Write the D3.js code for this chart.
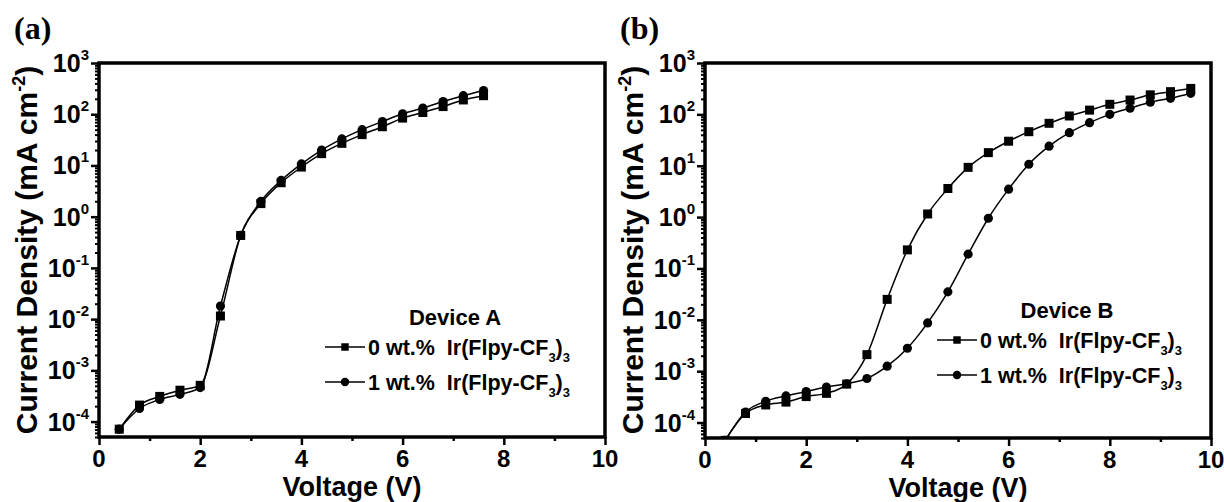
<!DOCTYPE html>
<html>
<head>
<meta charset="utf-8">
<script src="https://cdn.jsdelivr.net/npm/d3@7"></script>
<style>
  body { margin: 0; background: #fff; }
  svg text { font-family: "Liberation Sans", Arial, sans-serif; font-weight: bold; fill: #000; white-space: pre; }
</style>
</head>
<body>
<svg id="chart" width="1224" height="502"></svg>
<script>
// values
const voltageA = [0.4, 0.8, 1.2, 1.6, 2.0, 2.4, 2.8, 3.2, 3.6, 4.0, 4.4, 4.8, 5.2, 5.6, 6.0, 6.4, 6.8, 7.2, 7.6];
const densityA0 = [7.1e-5, 2.1e-4, 3.1e-4, 4.1e-4, 5.1e-4, 1.15e-2, 0.43, 1.8, 4.6, 9.3, 17, 27, 40, 57, 84, 108, 141, 190, 230];
const densityA1 = [7.1e-5, 1.8e-4, 2.7e-4, 3.4e-4, 4.6e-4, 1.8e-2, 0.43, 2.0, 5.1, 10.7, 20, 33, 50, 72, 102, 132, 177, 230, 290];

const voltageB = [0.4, 0.8, 1.2, 1.6, 2.0, 2.4, 2.8, 3.2, 3.6, 4.0, 4.4, 4.8, 5.2, 5.6, 6.0, 6.4, 6.8, 7.2, 7.6, 8.0, 8.4, 8.8, 9.2, 9.6];
const densityB0 = [4.5e-5, 1.5e-4, 2.2e-4, 2.5e-4, 3.2e-4, 3.7e-4, 5.6e-4, 2.1e-3, 2.5e-2, 0.23, 1.15, 3.6, 9.3, 18, 30, 46, 67, 93, 121, 157, 190, 240, 277, 320];
const densityB1 = [4.5e-5, 1.6e-4, 2.6e-4, 3.3e-4, 4.0e-4, 4.9e-4, 5.7e-4, 7.2e-4, 1.25e-3, 2.8e-3, 8.7e-3, 3.5e-2, 0.19, 0.95, 3.5, 10.7, 24, 44, 69, 100, 132, 172, 205, 257];

const xTicks = [0, 2, 4, 6, 8, 10];
const xMinorTicks = [1, 3, 5, 7, 9];
const yExponents = [-4, -3, -2, -1, 0, 1, 2, 3];
const seriesLabels = ['0 wt.%  Ir(Flpy-CF', '1 wt.%  Ir(Flpy-CF'];

const svg = d3.select('#chart');

function drawPanel(p) {
  const x = d3.scaleLinear().domain([0, 10]).range([p.left, p.right]);
  const y = d3.scaleLog().domain([5e-5, 1000]).range([p.bottom, p.top]);
  const g = svg.append('g');

  // log minor ticks
  const yMinor = [];
  yExponents.concat([-5]).forEach(function (e) {
    for (let k = 2; k <= 9; k++) {
      const v = k * Math.pow(10, e);
      if (v >= 5e-5 && v <= 1000) yMinor.push(v);
    }
  });
  const yMajor = yExponents.map(function (e) { return Math.pow(10, e); });

  g.append('g')
    .attr('transform', 'translate(' + p.left + ',0)')
    .call(d3.axisLeft(y).tickValues(yMinor).tickSize(4).tickFormat(''))
    .call(function (a) { a.select('.domain').remove(); a.selectAll('line').attr('stroke-width', 2); });
  g.append('g')
    .attr('transform', 'translate(' + p.left + ',0)')
    .call(d3.axisLeft(y).tickValues(yMajor).tickSize(8).tickFormat(''))
    .call(function (a) { a.select('.domain').remove(); a.selectAll('line').attr('stroke-width', 2.5); });

  g.append('g')
    .attr('transform', 'translate(0,' + p.bottom + ')')
    .call(d3.axisBottom(x).tickValues(xMinorTicks).tickSize(4).tickFormat(''))
    .call(function (a) { a.select('.domain').remove(); a.selectAll('line').attr('stroke-width', 2.5); });
  g.append('g')
    .attr('transform', 'translate(0,' + p.bottom + ')')
    .call(d3.axisBottom(x).tickValues(xTicks).tickSize(8).tickFormat(''))
    .call(function (a) { a.select('.domain').remove(); a.selectAll('line').attr('stroke-width', 2.5); });

  // frame
  g.append('rect')
    .attr('x', p.left).attr('y', p.top)
    .attr('width', p.right - p.left).attr('height', p.bottom - p.top)
    .attr('fill', 'none').attr('stroke', '#000').attr('stroke-width', 3.5);

  // tick labels
  g.selectAll('.xlab').data(xTicks).enter().append('text')
    .attr('x', function (d) { return x(d); })
    .attr('y', p.bottom + 30)
    .attr('text-anchor', 'middle')
    .style('font-size', '24px')
    .text(function (d) { return d; });

  const ylab = g.selectAll('.ylab').data(yExponents).enter().append('text')
    .attr('x', p.left - 10)
    .attr('y', function (d) { return y(Math.pow(10, d)) + 9; })
    .attr('text-anchor', 'end')
    .style('font-size', '25px');
  ylab.append('tspan').text('10');
  ylab.append('tspan').attr('dy', -12).style('font-size', '15px').text(function (d) { return d; });

  // axis titles
  const yt = g.append('text')
    .attr('transform', 'translate(' + (p.left - 62) + ',250) rotate(-90)')
    .attr('text-anchor', 'middle')
    .style('font-size', '30px');
  yt.append('tspan').text('Current Density (mA cm');
  yt.append('tspan').attr('dy', -12).style('font-size', '18px').text('-2');
  yt.append('tspan').attr('dy', 12).text(')');

  g.append('text')
    .attr('x', (p.left + p.right) / 2)
    .attr('y', p.bottom + 59)
    .attr('text-anchor', 'middle')
    .style('font-size', '27px')
    .text('Voltage (V)');

  g.append('text')
    .attr('x', p.left - 85).attr('y', 39)
    .style('font-family', '"Liberation Serif", "Times New Roman", serif')
    .style('font-size', '32px')
    .text(p.tag);

  // curves
  const clipId = 'clip' + p.tag.replace(/\W/g, '');
  svg.append('clipPath').attr('id', clipId).append('rect')
    .attr('x', p.left).attr('y', p.top)
    .attr('width', p.right - p.left).attr('height', p.bottom - p.top);

  const plot = g.append('g').attr('clip-path', 'url(#' + clipId + ')');
  const line = d3.line()
    .x(function (d) { return x(d[0]); })
    .y(function (d) { return y(d[1]); })
    .curve(d3.curveMonotoneX);

  p.series.forEach(function (s, i) {
    const pts = p.volts.map(function (v, j) { return [v, s[j]]; });
    plot.append('path').datum(pts)
      .attr('d', line).attr('fill', 'none').attr('stroke', '#000').attr('stroke-width', 1.5);
    const shape = i === 0 ? d3.symbolSquare : d3.symbolCircle;
    plot.selectAll('.m' + i).data(pts).enter().append('path')
      .attr('transform', function (d) { return 'translate(' + x(d[0]) + ',' + y(d[1]) + ')'; })
      .attr('d', d3.symbol().type(shape).size(i === 0 ? 81 : 66))
      .attr('fill', '#000');
  });

  // legend
  g.append('text')
    .attr('x', p.legendX + 88).attr('y', p.legendY - 22)
    .attr('text-anchor', 'middle')
    .style('font-size', '22px')
    .text(p.device);

  seriesLabels.forEach(function (lab, i) {
    const ly = p.legendY + i * 35;
    g.append('line')
      .attr('x1', p.legendX - 42).attr('x2', p.legendX - 2)
      .attr('y1', ly).attr('y2', ly)
      .attr('stroke', '#000').attr('stroke-width', 1.5);
    g.append('path')
      .attr('transform', 'translate(' + (p.legendX - 22) + ',' + ly + ')')
      .attr('d', d3.symbol().type(i === 0 ? d3.symbolSquare : d3.symbolCircle).size(56))
      .attr('fill', '#000');
    const t = g.append('text')
      .attr('x', p.legendX + 1).attr('y', ly + 8)
      .style('font-size', '21.5px');
    t.append('tspan').text(lab);
    t.append('tspan').attr('dy', 7).style('font-size', '13px').text('3');
    t.append('tspan').attr('dy', -7).text(')');
    t.append('tspan').attr('dy', 7).style('font-size', '13px').text('3');
  });
}

drawPanel({
  tag: '(a)', device: 'Device A',
  left: 99, right: 605, top: 63, bottom: 437,
  volts: voltageA, series: [densityA0, densityA1],
  legendX: 367, legendY: 347
});

drawPanel({
  tag: '(b)', device: 'Device B',
  left: 705, right: 1211, top: 63, bottom: 438,
  volts: voltageB, series: [densityB0, densityB1],
  legendX: 979, legendY: 340
});
</script>
</body>
</html>
